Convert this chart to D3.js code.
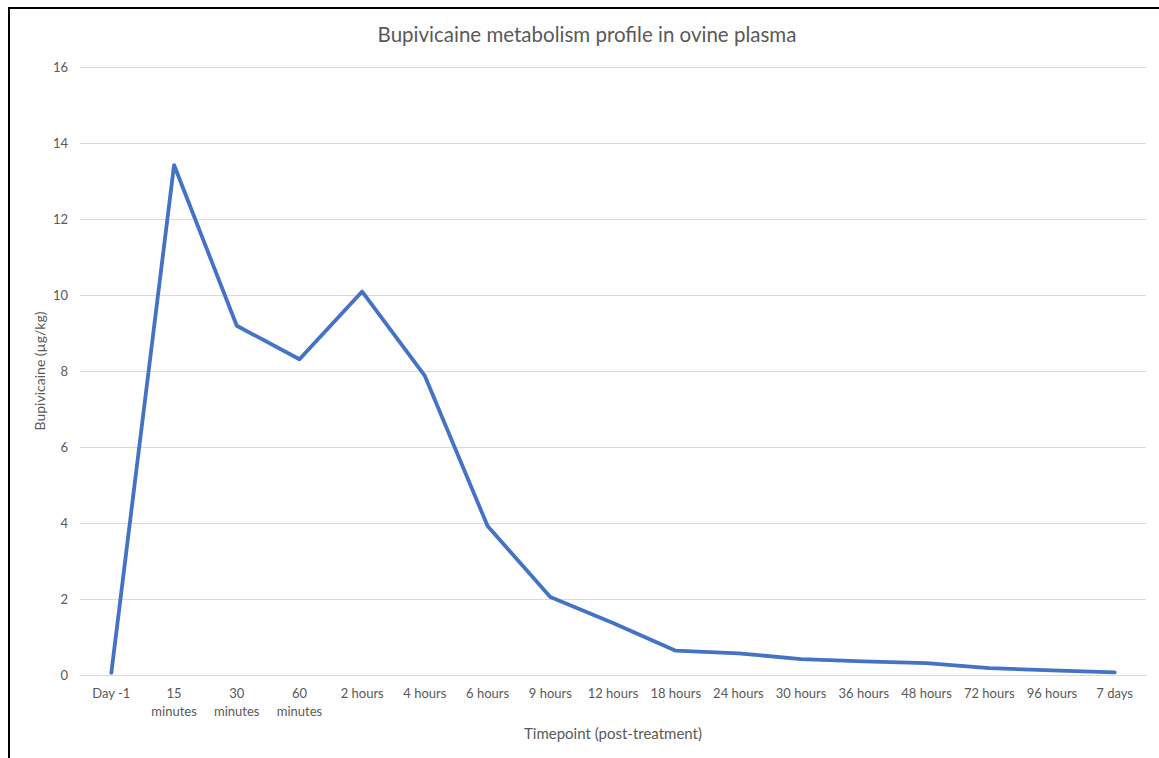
<!DOCTYPE html>
<html>
<head>
<meta charset="utf-8">
<script src="https://cdn.jsdelivr.net/npm/d3@7"></script>
<style>
  html, body { margin: 0; padding: 0; background: #fff; }
  svg { display: block; }
  text { font-family: Lato, "Open Sans", sans-serif; fill: #595959; }
</style>
</head>
<body>
<svg id="chart" width="1159" height="758"></svg>
<script>
// Plasma bupivicaine concentration per sampling timepoint
const timepoints = ["Day -1", "15 minutes", "30 minutes", "60 minutes", "2 hours", "4 hours",
  "6 hours", "9 hours", "12 hours", "18 hours", "24 hours", "30 hours", "36 hours",
  "48 hours", "72 hours", "96 hours", "7 days"];
const concentration = [0.06, 13.42, 9.19, 8.31, 10.09, 7.87, 3.92, 2.05, 1.37, 0.64,
  0.57, 0.42, 0.36, 0.31, 0.18, 0.12, 0.07];
const yTicks = [0, 2, 4, 6, 8, 10, 12, 14, 16];

const title = "Bupivicaine metabolism profile in ovine plasma";
const yTitle = "Bupivicaine (µg/kg)";
const xTitle = "Timepoint (post-treatment)";

const svg = d3.select("#chart");
const W = 1159, H = 758;
const plot = { left: 80, right: 1146, top: 67, bottom: 675 };

// Outer frame (top and left edges are visible)
svg.append("path")
  .attr("d", `M9,${H} L9,8 L${W},8`)
  .attr("fill", "none")
  .attr("stroke", "#000")
  .attr("stroke-width", 2);

const x = d3.scaleBand()
  .domain(timepoints)
  .range([plot.left, plot.right])
  .paddingInner(0).paddingOuter(0);

const y = d3.scaleLinear()
  .domain([0, 16])
  .range([plot.bottom, plot.top]);

// Horizontal gridlines + y tick labels
const yAxis = d3.axisLeft(y)
  .tickValues(yTicks)
  .tickSize(-(plot.right - plot.left))
  .tickPadding(12)
  .tickFormat(d3.format("d"));

const gy = svg.append("g")
  .attr("transform", `translate(${plot.left},0)`)
  .call(yAxis);
gy.select(".domain").remove();
gy.selectAll(".tick line").attr("stroke", "#d9d9d9").attr("stroke-width", 1);
gy.selectAll(".tick text")
  .attr("font-size", 13)
  .style("fill", "#595959")
  .attr("dy", "0.35em");

// Category axis along the bottom
const xAxis = d3.axisBottom(x).tickSize(0).tickPadding(0);
const gx = svg.append("g")
  .attr("transform", `translate(0,${plot.bottom})`)
  .call(xAxis);
gx.select(".domain").attr("stroke", "#d9d9d9");

// Wrap category labels that are too wide for one band
gx.selectAll(".tick text")
  .attr("font-size", 13)
  .style("fill", "#595959")
  .attr("dy", null)
  .attr("y", null)
  .each(function (d) {
    const t = d3.select(this);
    t.text(null);
    const words = d.split(" ");
    const lines = (words.length > 1 && words[1] === "minutes") ? [words[0], words.slice(1).join(" ")] : [d];
    lines.forEach((ln, i) => {
      t.append("tspan")
        .attr("x", 0)
        .attr("y", 23 + i * 18)
        .text(ln);
    });
  });

// Concentration line
const line = d3.line()
  .x((d, i) => x(timepoints[i]) + x.bandwidth() / 2)
  .y(d => y(d));

svg.append("path")
  .datum(concentration)
  .attr("d", line)
  .attr("fill", "none")
  .attr("stroke", "#4472c4")
  .attr("stroke-width", 3.8)
  .attr("stroke-linejoin", "round")
  .attr("stroke-linecap", "round");

// Chart title
svg.append("text")
  .attr("x", 587)
  .attr("y", 42)
  .attr("text-anchor", "middle")
  .attr("font-size", 20.5)
  .text(title);

// Axis titles
svg.append("text")
  .attr("transform", `translate(45,${(plot.top + plot.bottom) / 2}) rotate(-90)`)
  .attr("text-anchor", "middle")
  .attr("font-size", 14)
  .text(yTitle);

svg.append("text")
  .attr("x", (plot.left + plot.right) / 2)
  .attr("y", 739)
  .attr("text-anchor", "middle")
  .attr("font-size", 15)
  .text(xTitle);
</script>
</body>
</html>
